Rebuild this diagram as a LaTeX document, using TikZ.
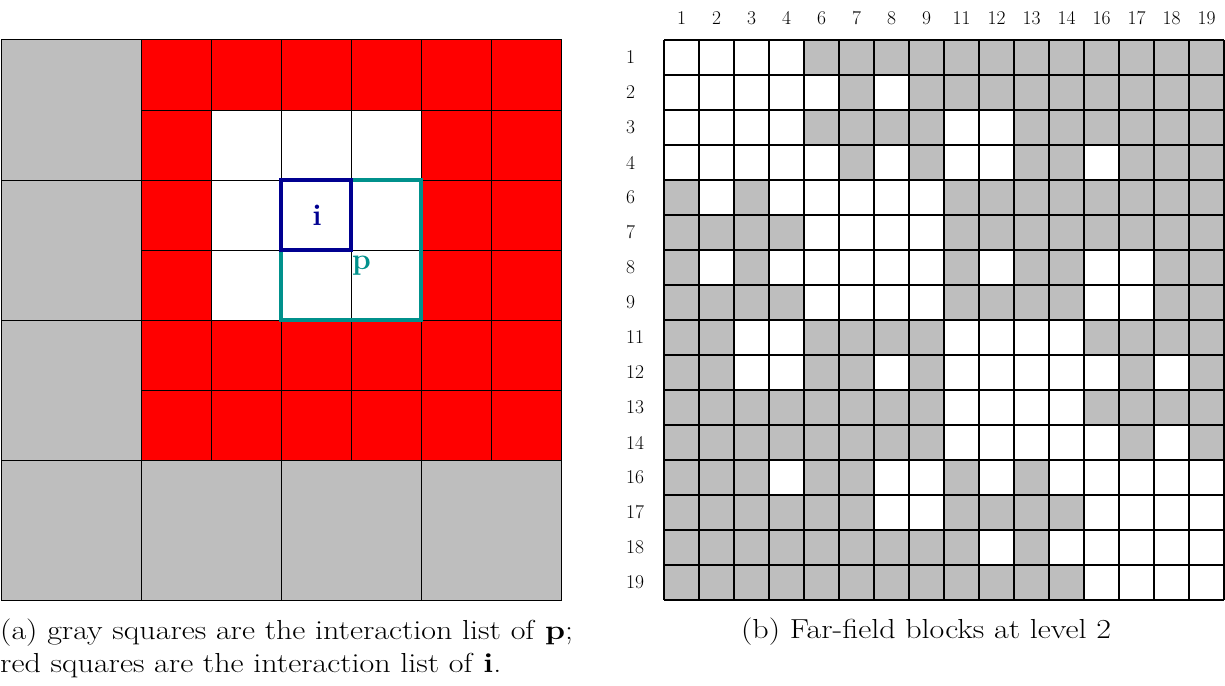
\documentclass[tikz,border=0pt]{standalone}
\definecolor{cellgray}{RGB}{190,190,190}
\definecolor{cellred}{RGB}{255,0,0}
\definecolor{inavy}{RGB}{0,0,145}
\definecolor{pteal}{RGB}{0,145,140}
\newcommand{\capstretch}[1]{\scalebox{1.165}[1]{#1}}
\begin{document}
\begin{tikzpicture}[x=1pt,y=-1pt,
  gridline/.style={draw=black,line width=1pt},
  mgridline/.style={draw=black,line width=1.2pt},
  numlabel/.style={inner sep=0pt,font=\fontsize{19.5}{23}\selectfont},
  captext/.style={inner sep=0pt,font=\fontsize{27.5}{33}\selectfont},
  boxlabel/.style={inner sep=0pt,font=\fontsize{30}{36}\selectfont\bfseries}]
\useasboundingbox (0,0) rectangle (1225,685);

% ---------- (a) left figure ----------
\fill[cellgray] (1,40) rectangle (141,600);
\fill[cellgray] (141,460) rectangle (561,600);
\fill[cellred] (141,40) rectangle (561,460);
\fill[white] (211,110) rectangle (421,320);
% fine grid in the red/white region
\foreach \yy in {110,180,250,320,390}
  \draw[gridline] (141,\yy) -- (561,\yy);
\foreach \xx in {211,281,351,421,491}
  \draw[gridline] (\xx,40) -- (\xx,460);
% coarse grid
\foreach \yy in {180,320,460}
  \draw[gridline] (1,\yy) -- (141,\yy);
\draw[gridline] (141,460) -- (561,460);
\draw[gridline] (141,40) -- (141,600);
\foreach \xx in {281,421}
  \draw[gridline] (\xx,460) -- (\xx,600);
\draw[gridline] (1,40) rectangle (561,600);
% p and i boxes
\draw[pteal,line width=3.5pt] (281,180) rectangle (421,320);
\draw[inavy,line width=3.5pt] (281,180) rectangle (351,250);
\node[boxlabel,text=inavy,anchor=base] (ilabel) at (317,225) {i};
\node[boxlabel,text=pteal,anchor=base west] (plabel) at (352,269) {p};

% ---------- (b) matrix ----------
\foreach \r/\cs in {
  1/{5,6,7,8,9,10,11,12,13,14,15,16},
  2/{6,8,9,10,11,12,13,14,15,16},
  3/{5,6,7,8,11,12,13,14,15,16},
  4/{6,8,11,12,14,15,16},
  5/{1,3,9,10,11,12,13,14,15,16},
  6/{1,2,3,4,9,10,11,12,13,14,15,16},
  7/{1,3,9,11,12,15,16},
  8/{1,2,3,4,9,10,11,12,15,16},
  9/{1,2,5,6,7,8,13,14,15,16},
  10/{1,2,5,6,8,14,16},
  11/{1,2,3,4,5,6,7,8,13,14,15,16},
  12/{1,2,3,4,5,6,7,8,14,16},
  13/{1,2,3,5,6,9,11},
  14/{1,2,3,4,5,6,9,10,11,12},
  15/{1,2,3,4,5,6,7,8,9,11},
  16/{1,2,3,4,5,6,7,8,9,10,11,12}}
{
  \foreach \c in \cs
    \fill[cellgray] ({664+35*(\c-1)},{40+35*(\r-1)}) rectangle ++(35,35);
}
\foreach \i in {0,...,16}{
  \draw[mgridline] ({664+35*\i},40) -- ({664+35*\i},600);
  \draw[mgridline] (664,{40+35*\i}) -- (1224,{40+35*\i});
}
\foreach \l [count=\i] in {1,2,3,4,6,7,8,9,11,12,13,14,16,17,18,19}{
  \node[numlabel,anchor=south] (col\i) at ({664+35*\i-17.5},25) {\l};
  \node[numlabel,anchor=west] (row\i) at (626,{40+35*\i-17.5}) {\l};
}

% ---------- captions ----------
\node[captext,anchor=base west] (capa1) at (0,639) {\capstretch{(a) gray squares are the interaction list of \textbf{p};}};
\node[captext,anchor=base west] (capa2) at (0,672) {\capstretch{red squares are the interaction list of \textbf{i}.}};
\node[captext,anchor=base] (capb) at (926,638) {\capstretch{(b) Far-field blocks at level 2}};
\end{tikzpicture}
\end{document}
